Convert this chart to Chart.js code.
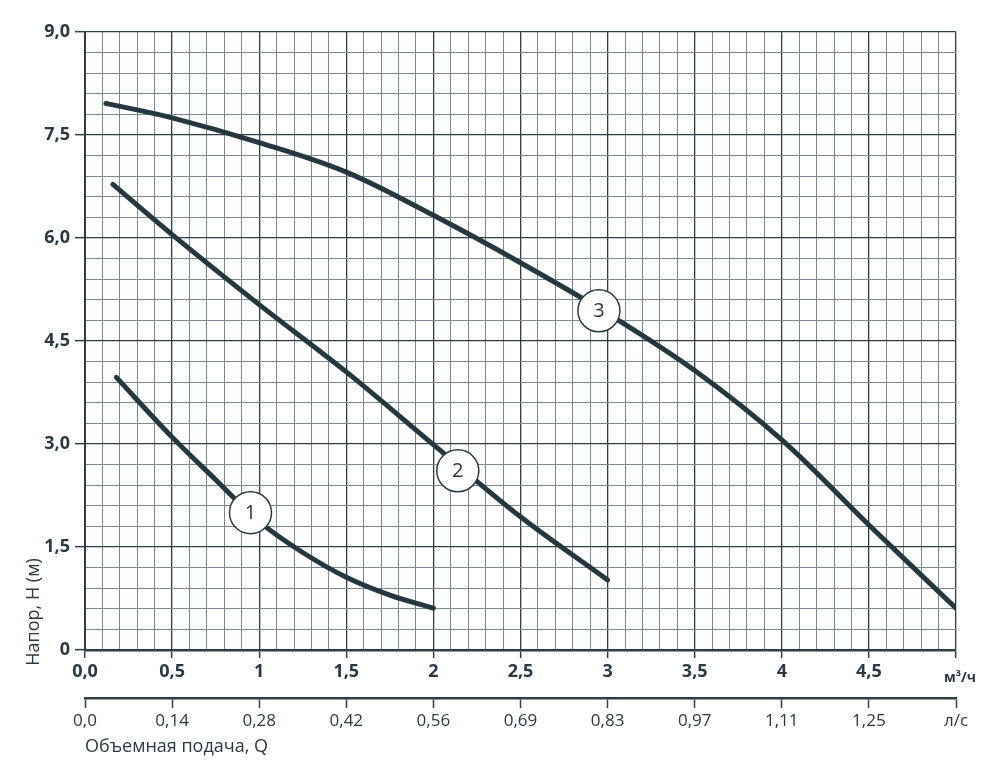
<!DOCTYPE html>
<html lang="ru">
<head>
<meta charset="utf-8">
<title>Напор — объемная подача</title>
<script src="https://cdn.jsdelivr.net/npm/chart.js@4"></script>
<style>
  html, body { margin: 0; padding: 0; background: #fff; }
  canvas { display: block; }
</style>
</head>
<body>
<canvas id="pumpChart" width="1000" height="782"></canvas>
<script>
"use strict";

// ── Curves (Q in м³/ч, H in м) ──
const Q1 = [0.18, 0.5, 0.75, 1.0, 1.25, 1.5, 1.75, 2.0];
const H1 = [3.97, 3.10, 2.48, 1.87, 1.42, 1.06, 0.80, 0.61];

const Q2 = [0.16, 0.5, 1.0, 1.5, 2.0, 2.5, 3.0];
const H2 = [6.78, 6.05, 5.03, 4.05, 2.99, 1.94, 1.02];

const Q3 = [0.12, 0.5, 1.0, 1.5, 2.0, 2.5, 3.0, 3.5, 4.0, 4.5, 5.0];
const H3 = [7.96, 7.75, 7.39, 6.96, 6.33, 5.64, 4.90, 4.07, 3.06, 1.82, 0.61];

// ── Circled curve numbers ──
const LABEL_Q    = [0.95, 2.14, 2.95];
const LABEL_H    = [2.00, 2.61, 4.94];
const LABEL_TEXT = ["1", "2", "3"];

// ── Tick labels ──
const X_TICKS  = ["0,0", "0,5", "1", "1,5", "2", "2,5", "3", "3,5", "4", "4,5", ""];
const LS_TICKS = ["0,0", "0,14", "0,28", "0,42", "0,56", "0,69", "0,83", "0,97", "1,11", "1,25", "л/с"];
const Y_TICKS  = ["0", "1,5", "3,0", "4,5", "6,0", "7,5", "9,0"];

const INK       = "#2a3a43";
const CURVE     = "#253840";
const GRID_MAJ  = "#2e3e46";
const GRID_MIN  = "#7b8a90";
const FONT      = "'Open Sans', 'DejaVu Sans', sans-serif";

const isMult = (v, step) => Math.abs(v / step - Math.round(v / step)) < 1e-6;
const pts = (qs, hs) => qs.map((q, i) => ({ x: q, y: hs[i] }));

const curveStyle = {
  showLine: true, borderColor: CURVE, borderWidth: 5, pointRadius: 0,
  tension: 0.35, borderCapStyle: "round",
  fill: false, order: 1
};

// numbers inside circles, rotated y title, flow unit
const extrasPlugin = {
  id: "extras",
  afterDatasetsDraw(chart) {
    const ctx = chart.ctx;
    const meta = chart.getDatasetMeta(0);
    ctx.save();
    ctx.fillStyle = INK;
    ctx.font = "20px " + FONT;
    ctx.textAlign = "center";
    ctx.textBaseline = "middle";
    meta.data.forEach((p, i) => ctx.fillText(LABEL_TEXT[i], p.x, p.y + 1));
    ctx.restore();
  },
  afterDraw(chart) {
    const ctx = chart.ctx;
    const x = chart.scales.x;
    ctx.save();
    ctx.fillStyle = INK;
    ctx.font = "bold 14px " + FONT;
    ctx.textAlign = "center";
    ctx.textBaseline = "middle";
    ctx.fillText("м³/ч", x.getPixelForValue(5) + 4, 678);

    ctx.font = "18px " + FONT;
    ctx.translate(34, 612);
    ctx.rotate(-Math.PI / 2);
    ctx.fillText("Напор, Н (м)", 0, 0);
    ctx.restore();
  }
};

new Chart(document.getElementById("pumpChart"), {
  type: "scatter",
  data: {
    datasets: [
      {
        data: pts(LABEL_Q, LABEL_H), showLine: false, order: 0,
        pointRadius: 21, pointHoverRadius: 21,
        pointBackgroundColor: "#ffffff", pointBorderColor: INK, pointBorderWidth: 1.5
      },
      { ...curveStyle, data: pts(Q1, H1) },
      { ...curveStyle, data: pts(Q2, H2) },
      { ...curveStyle, data: pts(Q3, H3) }
    ]
  },
  options: {
    responsive: false,
    animation: false,
    devicePixelRatio: 1,
    layout: { padding: { top: 32, right: 44, bottom: 0, left: 0 } },
    plugins: { legend: { display: false }, tooltip: { enabled: false } },
    scales: {
      x: {
        type: "linear", position: "bottom", weight: 0,
        min: 0, max: 5,
        afterFit: s => { s.height = 48; },
        ticks: {
          stepSize: 0.1, autoSkip: false, maxRotation: 0, padding: 3,
          color: INK, font: { family: FONT, size: 18, weight: "bold" },
          callback: v => isMult(v, 0.5) ? X_TICKS[Math.round(v / 0.5)] : ""
        },
        grid: {
          tickLength: 8,
          color: c => isMult(c.tick.value, 0.5) ? GRID_MAJ : GRID_MIN,
          lineWidth: c => isMult(c.tick.value, 0.5) ? 1.3 : 1,
          tickColor: c => isMult(c.tick.value, 0.5) ? GRID_MAJ : "rgba(0,0,0,0)",
          tickWidth: 1.5
        },
        border: { color: GRID_MAJ, width: 2.5 }
      },
      x2: {
        type: "linear", position: "bottom", weight: 1,
        min: 0, max: 5,
        afterFit: s => { s.height = 84; },
        ticks: {
          stepSize: 0.5, autoSkip: false, maxRotation: 0, padding: 3,
          color: INK, font: { family: FONT, size: 17 },
          callback: v => LS_TICKS[Math.round(v / 0.5)]
        },
        grid: { drawOnChartArea: false, tickLength: 10, tickColor: GRID_MAJ, tickWidth: 1.5 },
        border: { color: GRID_MAJ, width: 2.5 },
        title: {
          display: true, text: "Объемная подача, Q", align: "start",
          color: INK, font: { family: FONT, size: 18 },
          padding: { top: 0, bottom: 24 }
        }
      },
      y: {
        min: 0, max: 9,
        afterFit: s => { s.width = 85; },
        ticks: {
          stepSize: 0.3, autoSkip: false, padding: 5,
          color: INK, font: { family: FONT, size: 18, weight: "bold" },
          callback: v => isMult(v, 1.5) ? Y_TICKS[Math.round(v / 1.5)] : ""
        },
        grid: {
          tickLength: 10,
          color: c => isMult(c.tick.value, 1.5) ? GRID_MAJ : GRID_MIN,
          lineWidth: c => isMult(c.tick.value, 1.5) ? 1.3 : 1,
          tickColor: c => isMult(c.tick.value, 1.5) ? GRID_MAJ : "rgba(0,0,0,0)",
          tickWidth: 1.5
        },
        border: { color: GRID_MAJ, width: 2 }
      }
    }
  },
  plugins: [extrasPlugin]
});
</script>
</body>
</html>
